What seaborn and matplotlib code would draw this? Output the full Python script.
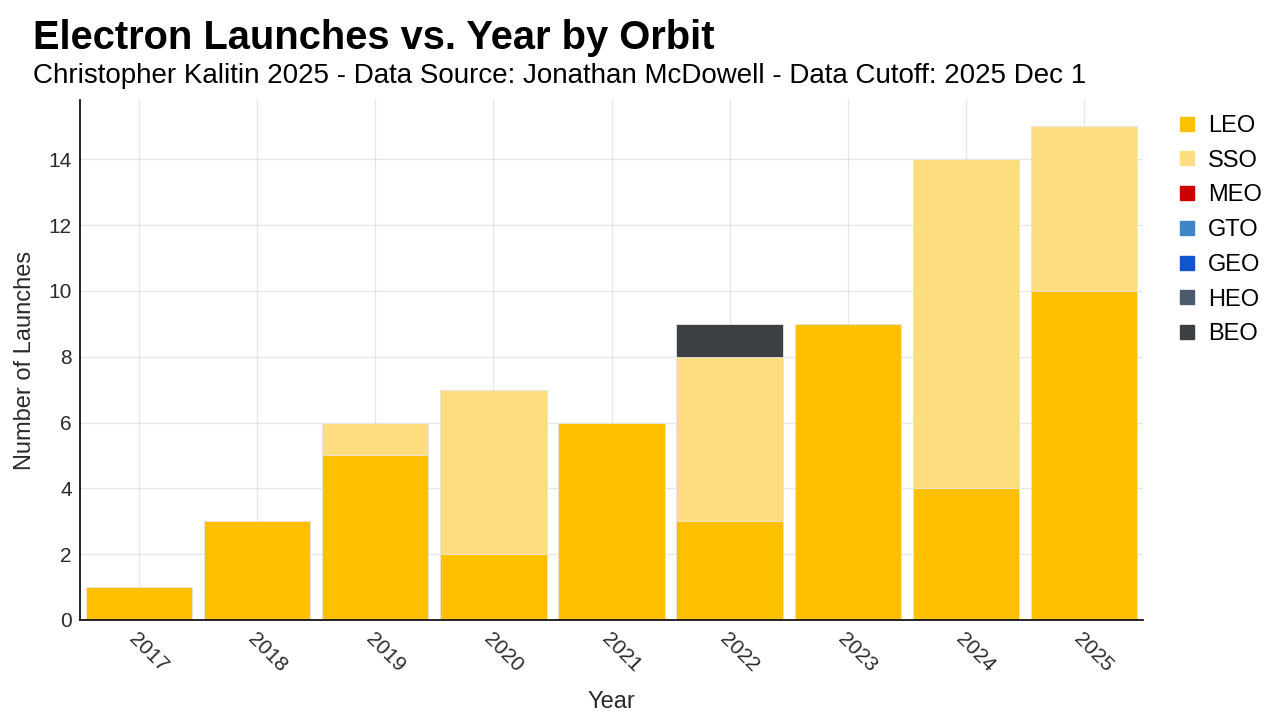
import numpy as np
import pandas as pd
import matplotlib
matplotlib.use("Agg")
import matplotlib.pyplot as plt
import seaborn as sns
from matplotlib.lines import Line2D

years = ["2017", "2018", "2019", "2020", "2021", "2022", "2023", "2024", "2025"]
orbits = ["LEO", "SSO", "MEO", "GTO", "GEO", "HEO", "BEO"]
leo = [1, 3, 5, 2, 6, 3, 9, 4, 10]
sso = [0, 0, 1, 5, 0, 5, 0, 10, 5]
meo = [0, 0, 0, 0, 0, 0, 0, 0, 0]
gto = [0, 0, 0, 0, 0, 0, 0, 0, 0]
geo = [0, 0, 0, 0, 0, 0, 0, 0, 0]
heo = [0, 0, 0, 0, 0, 0, 0, 0, 0]
beo = [0, 0, 0, 0, 0, 1, 0, 0, 0]
colors = ["#FFC000", "#FFDD80", "#CC0000", "#3D85C6", "#1155CC", "#4C5B6B", "#3C4043"]

series = [leo, sso, meo, gto, geo, heo, beo]

sns.set_theme(style="white")
plt.rcParams["font.family"] = ["Liberation Sans", "DejaVu Sans"]

fig = plt.figure(figsize=(12.8, 7.2), dpi=100)
ax = fig.add_axes([0.0625, 0.139, 0.8305, 0.722])

cum = np.cumsum(np.array(series), axis=0)
# draw from top layer down so lower layers overlay
for i in range(len(orbits) - 1, -1, -1):
    vals = cum[i]
    if i > 0 and np.array_equal(vals, cum[i - 1]):
        continue
    df = pd.DataFrame({"Year": years, "Count": vals})
    sns.barplot(data=df, x="Year", y="Count", color=colors[i], saturation=1,
                width=0.9, edgecolor="#e6e6e6", linewidth=0.6, ax=ax, zorder=2)

ax.set_xlim(-0.5, len(years) - 0.5)
ax.set_ylim(0, 15.8)
ax.set_yticks(np.arange(0, 15, 2))
ax.grid(True, color="#e6e6e6", linewidth=1, zorder=0)
ax.set_axisbelow(True)
for s in ["top", "right"]:
    ax.spines[s].set_visible(False)
for s in ["left", "bottom"]:
    ax.spines[s].set_color("black")
    ax.spines[s].set_linewidth(1.2)
    ax.spines[s].set_zorder(3)

ax.tick_params(axis="both", length=0, labelsize=15, colors="#2a2a2a")
ax.tick_params(axis="y", pad=6)
ax.tick_params(axis="x", pad=7)
for lab in ax.get_xticklabels():
    lab.set_rotation(-45)
    lab.set_ha("left")
    lab.set_va("top")
    lab.set_rotation_mode("anchor")

ax.set_xlabel("Year", fontsize=17, color="#2a2a2a", labelpad=11)
ax.set_ylabel("Number of Launches", fontsize=17, color="#2a2a2a", labelpad=9)

fig.text(0.026, 0.947, "Electron Launches vs. Year by Orbit", fontsize=28.7,
         fontweight="bold", color="black", va="center", ha="left")
fig.text(0.026, 0.894, "Christopher Kalitin 2025 - Data Source: Jonathan McDowell - Data Cutoff: 2025 Dec 1",
         fontsize=20, color="black", va="center", ha="left")

handles = [Line2D([0], [0], marker="s", linestyle="none", markersize=10,
                  markerfacecolor=c, markeredgecolor=c) for c in colors]
leg = fig.legend(handles, orbits, loc="upper left", bbox_to_anchor=(0.9015, 0.87),
                 frameon=False, fontsize=17, handletextpad=0.4, labelspacing=0.54,
                 handlelength=1.0)
for t in leg.get_texts():
    t.set_color("black")

fig.savefig("out.png", dpi=100)
